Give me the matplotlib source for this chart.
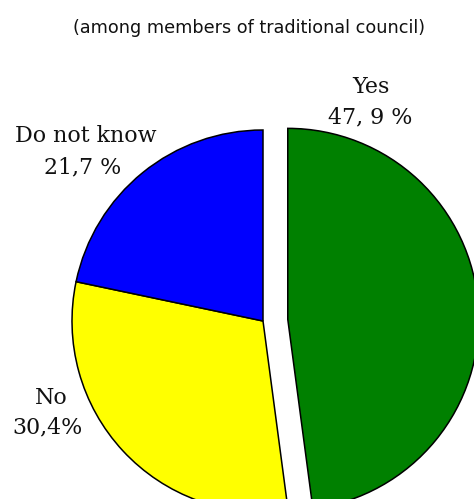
import matplotlib
matplotlib.use("Agg")
import matplotlib.pyplot as plt

# Survey answers (among members of traditional council)
categories = ["Yes", "No", "Do not know"]
shares = [47.9, 30.4, 21.7]
share_labels = ["47, 9 %", "30,4%", "21,7 %"]
colors = ["#008000", "#ffff00", "#0000ff"]

W, H = 474, 499
fig = plt.figure(figsize=(W / 100, H / 100), dpi=100)
ax = fig.add_axes([0, 0, 1, 1])

# pie geometry in pixel units (y measured from the bottom)
cx, cy, r = 263, H - 321, 191
# the explode offset is given in data units, so scale it by the radius
ax.pie(shares, colors=colors, startangle=90, counterclock=False,
       explode=[0.13 * r, 0, 0], center=(cx, cy), radius=r, frame=True,
       wedgeprops=dict(edgecolor="black", linewidth=1.1))
ax.set_xlim(0, W)
ax.set_ylim(0, H)
ax.set_aspect("equal")
ax.axis("off")

ax.text(249.5, H - 33, "(among members of traditional council)",
        ha="center", va="baseline", fontsize=12.7, family="DejaVu Sans",
        color="#111111")

label_pos = {
    "Yes": [(371, 93), (370, 123)],
    "No": [(51, 404), (48, 433)],
    "Do not know": [(86, 142), (83, 173)],
}
for cat, lab in zip(categories, share_labels):
    (x1, y1), (x2, y2) = label_pos[cat]
    for txt, x, y in ((cat, x1, y1), (lab, x2, y2)):
        ax.text(x, H - y, txt, ha="center", va="baseline", fontsize=15.9,
                family="DejaVu Serif", color="#111111")

fig.savefig("out.png", dpi=100)
